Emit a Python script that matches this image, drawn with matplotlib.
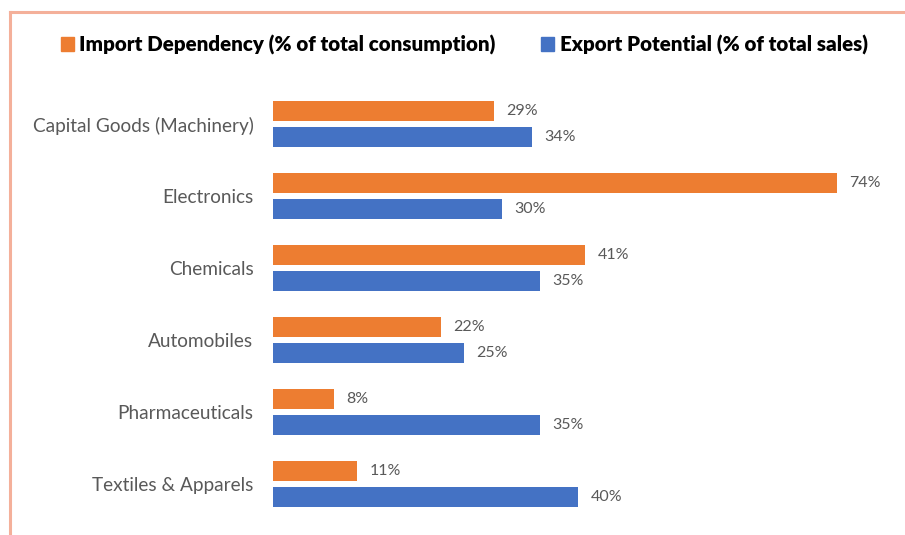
import matplotlib.pyplot as plt
import numpy as np
from matplotlib.lines import Line2D
from matplotlib.patches import Patch

categories = ['Capital Goods (Machinery)', 'Electronics', 'Chemicals',
              'Automobiles', 'Pharmaceuticals', 'Textiles & Apparels']
import_dep = [29, 74, 41, 22, 8, 11]
export_pot = [34, 30, 35, 25, 35, 40]

orange = '#ED7D31'
blue = '#4472C4'
grey = '#595959'

plt.rcParams['font.family'] = ['Lato', 'DejaVu Sans']

fig = plt.figure(figsize=(9.05, 5.35), dpi=100)
ax = fig.add_axes([273 / 905, 1 - 520 / 535, 607 / 905, 432 / 535])

y = np.arange(len(categories))
h = 0.28
b1 = ax.barh(y - 0.18, import_dep, height=h, color=orange)
b2 = ax.barh(y + 0.175, export_pot, height=h, color=blue)
ax.bar_label(b1, labels=[f'{v}%' for v in import_dep], padding=9, fontsize=11.5, color=grey)
ax.bar_label(b2, labels=[f'{v}%' for v in export_pot], padding=9, fontsize=11.5, color=grey)

ax.set_xlim(0, 607 / 7.62)
ax.set_ylim(5.5, -0.5)
ax.set_yticks(y)
ax.set_yticklabels(categories, fontsize=13.7, color=grey)
ax.tick_params(axis='y', length=0, pad=14)
ax.set_xticks([])
for s in ax.spines.values():
    s.set_visible(False)

handles = [Patch(color=orange, label='Import Dependency (% of total consumption)'),
           Patch(color=blue, label='Export Potential (% of total sales)')]
fig.legend(handles=handles, loc='center', bbox_to_anchor=(0.513, 1 - 45 / 535), ncol=2,
           frameon=False, handlelength=0.65, handleheight=0.65, handletextpad=0.25,
           columnspacing=2.2, prop={'weight': 'heavy', 'size': 14.8})

# border lines of the chart frame
bc = '#F4B09A'
fig.add_artist(Line2D([10 / 905, 1], [1 - 12 / 535, 1 - 12 / 535], color=bc, lw=2.2))
fig.add_artist(Line2D([10 / 905, 10 / 905], [0, 1 - 12 / 535], color=bc, lw=2.2))

fig.savefig('out.png', dpi=100)
